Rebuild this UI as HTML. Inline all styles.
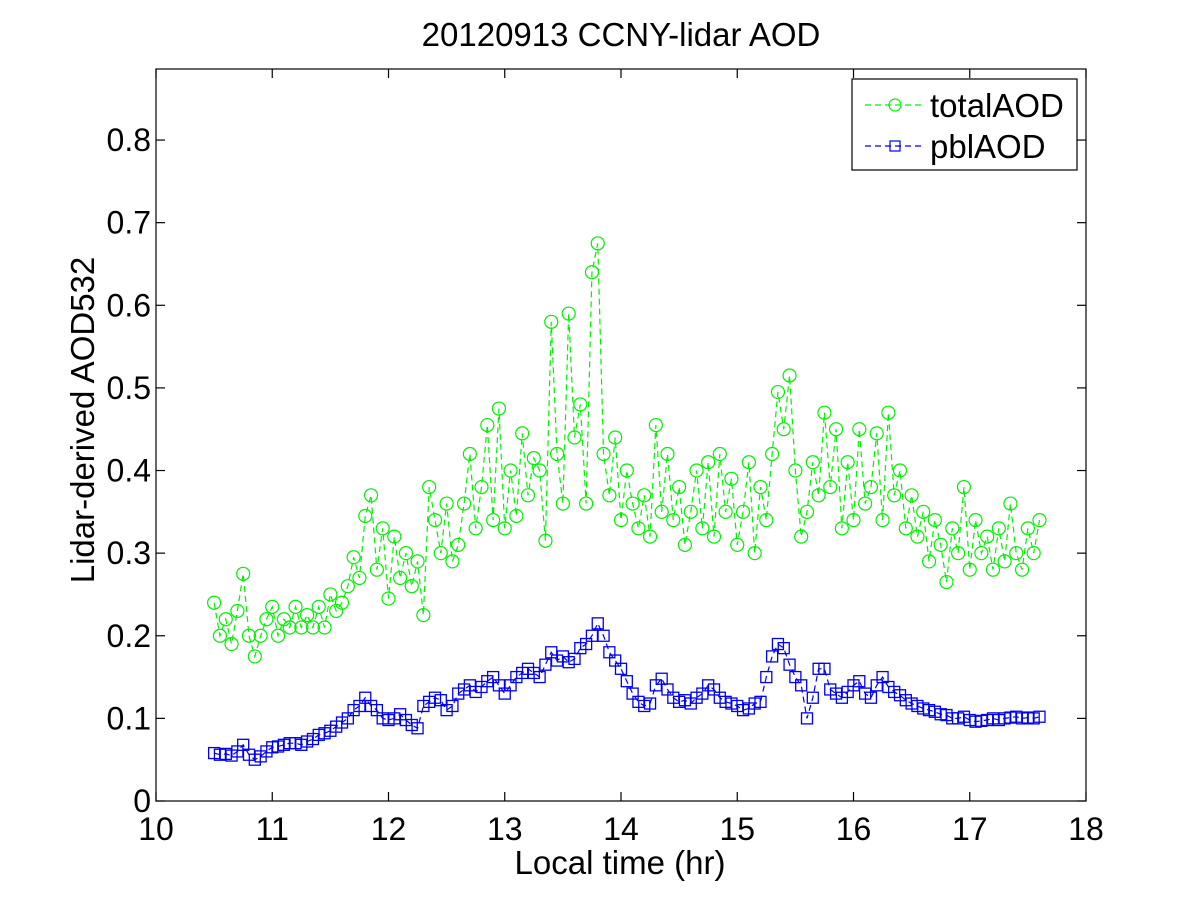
<!DOCTYPE html>
<html><head><meta charset="utf-8">
<style>
html,body{margin:0;padding:0;background:#fff;}
svg text{font-family:"Liberation Sans",Arial,sans-serif;fill:#000;}
</style></head>
<body>
<svg id="chart" width="1200" height="900" viewBox="0 0 1200 900" xmlns="http://www.w3.org/2000/svg">
<rect x="0" y="0" width="1200" height="900" fill="#fff"/>
<text x="621" y="46" font-size="33" text-anchor="middle">20120913 CCNY-lidar AOD</text>
<text x="620" y="874" font-size="33" text-anchor="middle">Local time (hr)</text>
<text transform="translate(94,420) rotate(-90)" font-size="33" text-anchor="middle">Lidar-derived AOD532</text>
<g id="plot"></g>
<g id="axes"></g>
<g>
<rect x="852" y="79" width="225" height="91" fill="#fff" stroke="#000" stroke-width="1.2"/>
<g>
<line x1="865" y1="105" x2="925" y2="105" stroke="#00f000" stroke-width="1.2" stroke-dasharray="6,4"/>
<circle cx="895" cy="105" r="6" fill="none" stroke="#00f000" stroke-width="1.2"/>
<text x="930" y="117" font-size="33">totalAOD</text>
</g>
<g>
<line x1="865" y1="146" x2="925" y2="146" stroke="#0000f0" stroke-width="1.2" stroke-dasharray="6,4"/>
<rect x="890" y="141" width="10" height="10" fill="none" stroke="#0000f0" stroke-width="1.2"/>
<text x="930" y="158" font-size="33">pblAOD</text>
</g>
</g>
</svg>
<script>
const xTicks = [10, 11, 12, 13, 14, 15, 16, 17, 18];
const yTicks = [0, 0.1, 0.2, 0.3, 0.4, 0.5, 0.6, 0.7, 0.8];
const yTickLabels = ["0", "0.1", "0.2", "0.3", "0.4", "0.5", "0.6", "0.7", "0.8"];
const timeStart = 10.5;
const timeStep = 0.05;
const totalAOD = [
.24,.20,.22,.19,.23,.275,.20,.175,.20,.22,
.235,.20,.22,.21,.235,.21,.225,.21,.235,.21,
.25,.23,.24,.26,.295,.27,.345,.37,.28,.33,
.245,.32,.27,.30,.26,.29,.225,.38,.34,.30,
.36,.29,.31,.36,.42,.33,.38,.455,.34,.475,
.33,.40,.345,.445,.37,.415,.40,.315,.58,.42,
.36,.59,.44,.48,.36,.64,.675,.42,.37,.44,
.34,.40,.36,.33,.37,.32,.455,.35,.42,.34,
.38,.31,.35,.40,.33,.41,.32,.42,.35,.39,
.31,.35,.41,.30,.38,.34,.42,.495,.45,.515,
.40,.32,.35,.41,.37,.47,.38,.45,.33,.41,
.34,.45,.36,.38,.445,.34,.47,.37,.40,.33,
.37,.32,.35,.29,.34,.31,.265,.33,.30,.38,
.28,.34,.30,.32,.28,.33,.29,.36,.30,.28,
.33,.30,.34];
const pblAOD = [
.058,.056,.057,.055,.060,.068,.056,.050,.054,.060,
.065,.066,.068,.070,.070,.068,.072,.075,.080,.082,
.085,.090,.095,.100,.110,.115,.125,.115,.110,.100,
.098,.100,.105,.098,.092,.088,.115,.120,.125,.122,
.110,.115,.130,.135,.140,.132,.138,.145,.150,.140,
.130,.140,.150,.155,.160,.155,.150,.165,.180,.170,
.175,.168,.172,.185,.190,.200,.215,.200,.180,.170,
.160,.145,.130,.120,.115,.118,.140,.148,.135,.125,
.120,.122,.118,.125,.130,.140,.135,.125,.120,.118,
.115,.110,.112,.118,.120,.150,.175,.190,.185,.165,
.150,.140,.100,.125,.160,.160,.135,.130,.125,.132,
.140,.145,.130,.125,.140,.150,.138,.132,.128,.122,
.118,.115,.112,.110,.108,.105,.104,.100,.100,.102,
.098,.096,.097,.098,.100,.098,.100,.101,.102,.100,
.101,.100,.102];

const X0 = 156, X1 = 1086, Y0 = 801, YTOP = 69;
const xMin = 10, xMax = 18, yMin = 0, yMax = 0.886;
function xs(v){ return X0 + (v - xMin) / (xMax - xMin) * (X1 - X0); }
function ys(v){ return Y0 - (v - yMin) / (yMax - yMin) * (Y0 - YTOP); }
const NS = "http://www.w3.org/2000/svg";
function mk(tag, attrs){ const e = document.createElementNS(NS, tag); for (const k in attrs) e.setAttribute(k, attrs[k]); return e; }

const plot = document.getElementById('plot');
const axes = document.getElementById('axes');

function drawSeries(vals, color, kind, name){
  const g = mk('g', {});
  
  
  const pts = vals.map((v,i) => xs(timeStart + i*timeStep).toFixed(2) + ',' + ys(v).toFixed(2)).join(' ');
  const line = mk('polyline', {points: pts, fill: 'none', stroke: color, 'stroke-width': 1.2, 'stroke-dasharray': '6,4'});
  
  
  g.appendChild(line);
  vals.forEach((v,i) => {
    const cx = xs(timeStart + i*timeStep), cy = ys(v);
    let m;
    if (kind === 'circle') m = mk('circle', {cx: cx, cy: cy, r: 6.5, fill: 'none', stroke: color, 'stroke-width': 1.2});
    else m = mk('rect', {x: cx-5.5, y: cy-5.5, width: 11, height: 11, fill: 'none', stroke: color, 'stroke-width': 1.3});
    
    
    g.appendChild(m);
  });
  plot.appendChild(g);
}
drawSeries(totalAOD, '#00f000', 'circle', 'totalAOD');
drawSeries(pblAOD, '#0000f0', 'square', 'pblAOD');

const frame = mk('rect', {x: X0, y: YTOP, width: X1-X0, height: Y0-YTOP, fill: 'none', stroke: '#000', 'stroke-width': 1.2});


axes.appendChild(frame);

xTicks.forEach(t => {
  const x = xs(t);
  const a = mk('line', {x1: x, y1: Y0, x2: x, y2: Y0-9, stroke: '#000', 'stroke-width': 1.2});
  
  
  axes.appendChild(a);
  const b = mk('line', {x1: x, y1: YTOP, x2: x, y2: YTOP+9, stroke: '#000', 'stroke-width': 1.2});
  
  
  axes.appendChild(b);
  const tx = mk('text', {x: x, y: Y0+39, 'font-size': 32, 'text-anchor': 'middle'});
  
  
  tx.textContent = String(t);
  axes.appendChild(tx);
});
yTicks.forEach((t,i) => {
  const y = ys(t);
  const a = mk('line', {x1: X0, y1: y, x2: X0+9, y2: y, stroke: '#000', 'stroke-width': 1.2});
  
  
  axes.appendChild(a);
  const b = mk('line', {x1: X1, y1: y, x2: X1-9, y2: y, stroke: '#000', 'stroke-width': 1.2});
  
  
  axes.appendChild(b);
  const tx = mk('text', {x: X0-5, y: y+11, 'font-size': 32, 'text-anchor': 'end'});
  
  
  tx.textContent = yTickLabels[i];
  axes.appendChild(tx);
});
</script>
</body></html>
